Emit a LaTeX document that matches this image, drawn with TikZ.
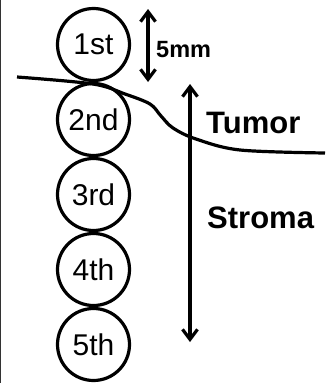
\documentclass[tikz,border=0pt]{standalone}
\usepackage{fontspec}
\setmainfont{Liberation Sans}
\usepackage{tikz}
\usetikzlibrary{arrows.meta, positioning}

\tikzset{
  core/.style={draw, circle, line width=3.2pt, minimum size=72pt, inner sep=0pt,
    font=\fontsize{30}{32}\selectfont},
  dimarrow/.style={{Straight Barb[length=10pt, width=15pt]}-{Straight Barb[length=10pt, width=15pt]},
    line width=3.2pt},
  tag/.style={anchor=base west, inner sep=0pt, font=\bfseries\fontsize{31}{33}\selectfont}
}

\begin{document}
\begin{tikzpicture}[x=1pt, y=-1pt, line join=round]
\useasboundingbox (0,0) rectangle (325,383);

% -- left frame edge ----------------------------------------------------------
\draw[black!80, line width=1pt] (0.5,0) -- (0.5,383);

% -- core samples -------------------------------------------------------------
\foreach \i/\lab in {1/1st, 2/2nd, 3/3rd, 4/4th, 5/5th}
  \node[core] (c\i) at (93.5, {44.5+75*(\i-1)}) {\lab};

% -- tumor / stroma boundary --------------------------------------------------
\draw[line width=3.2pt] plot[smooth, tension=0.55] coordinates
  {(17,77) (93,84) (125,94) (150,104) (161,116) (173,128) (196,139) (240,150) (325,153)};

% -- 5mm scale ----------------------------------------------------------------
\coordinate (s1) at (148,9);
\coordinate (s2) at (148,82);
\draw[dimarrow] (s1) -- (s2);
\node[tag, font=\bfseries\fontsize{23.5}{25}\selectfont] (mm) at (156,57) {5mm};

% -- depth arrow --------------------------------------------------------------
\coordinate (d1) at (190,84);
\coordinate (d2) at (190,342);
\draw[dimarrow] (d1) -- (d2);
\node[tag] (tumor) at (206,133) {Tumor};
\node[tag] (stroma) at (207,228) {Stroma};

\end{tikzpicture}
\end{document}
